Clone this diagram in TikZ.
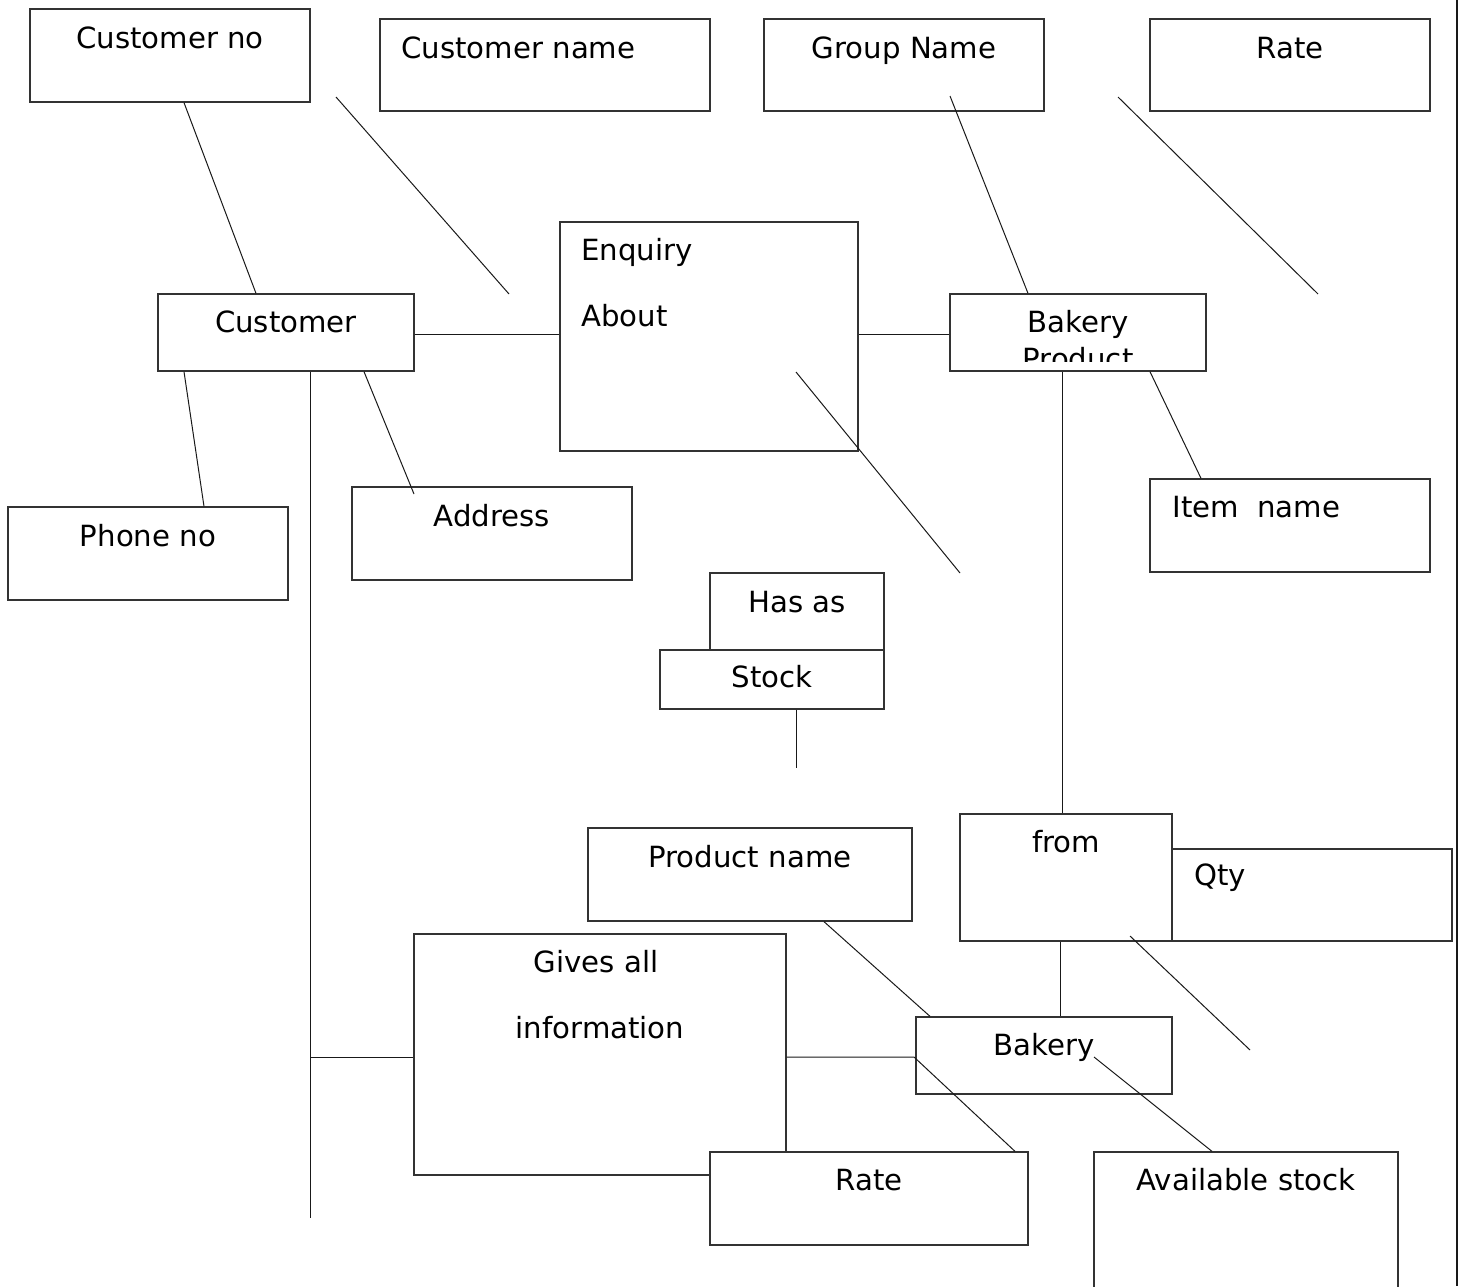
\documentclass[tikz,border=0pt]{standalone}
\usepackage{fontspec}
\setmainfont{DejaVu Sans}
\usetikzlibrary{fit}
\begin{document}
\begin{tikzpicture}[x=0.5pt,y=-0.5pt,
  box/.style={draw=black!80, line width=0.65pt, fill=white, inner sep=0pt},
  txt/.style={anchor=base, inner sep=0pt, font=\fontsize{14.6}{17}\selectfont},
  txtl/.style={txt, anchor=base west},
  ln/.style={draw=black!90, line width=0.5pt}]
\path[use as bounding box, clip] (0,0) rectangle (1461,1286);
% boxes
\node[box, fit={(30,9) (310,102)}] (cno) {};
\node[box, fit={(380,19) (710,111)}] (cname) {};
\node[box, fit={(764,19) (1044,111)}] (gname) {};
\node[box, fit={(1150,19) (1430,111)}] (rate1) {};
\node[box, fit={(560,222) (858,451)}] (enq) {};
\node[box, fit={(158,294) (414,371)}] (cust) {};
\node[box, fit={(950,294) (1206,371)}] (bprod) {};
\node[box, fit={(1150,479) (1430,572)}] (item) {};
\node[box, fit={(8,507) (288,600)}] (phone) {};
\node[box, fit={(352,487) (632,580)}] (addr) {};
\node[box, fit={(710,573) (884,650)}] (hasas) {};
\node[box, fit={(660,650) (884,709)}] (stock) {};
\node[box, fit={(960,814) (1172,941)}] (from) {};
\node[box, fit={(1172,849) (1452,941)}] (qty) {};
\node[box, fit={(588,828) (912,921)}] (pname) {};
\node[box, fit={(414,934) (786,1175)}] (gives) {};
\node[box, fit={(916,1017) (1172,1094)}] (bak) {};
\node[box, fit={(710,1152) (1028,1245)}] (rate2) {};
\node[box, fit={(1094,1152) (1398,1310)}] (avail) {};
% texts
\node[txt] (tcno) at (170,48) {Customer no};
\node[txtl] (tcname) at (401,58) {Customer name};
\node[txt] (tgname) at (904,58) {Group Name};
\node[txt] (trate1) at (1290,58) {Rate};
\node[txtl] (tenq1) at (581,260) {Enquiry};
\node[txtl] (tenq2) at (581,326) {About};
\node[txt] (tcust) at (286,332) {Customer};
\node[txt] (tbprod1) at (1078,332) {Bakery};
\begin{scope}
\clip (950,294) rectangle (1206,361);
\node[txt] (tbprod2) at (1078,369) {Product};
\end{scope}
\node[txtl] (titem) at (1172,517) {Item\ \ name};
\node[txt] (tphone) at (148,546) {Phone no};
\node[txt] (taddr) at (492,526) {Address};
\node[txt] (thasas) at (797,612) {Has as};
\node[txt] (tstock) at (772,687) {Stock};
\node[txt] (tfrom) at (1066,852) {from};
\node[txtl] (tqty) at (1194,885) {Qty};
\node[txt] (tpname) at (750,867) {Product name};
\node[txt] (tgives1) at (596,972) {Gives all};
\node[txt] (tgives2) at (600,1038) {information};
\node[txt] (tbak) at (1044,1055) {Bakery};
\node[txt] (trate2) at (869,1190) {Rate};
\node[txt] (tavail) at (1246,1190) {Available stock};
% free coordinates
\coordinate (f1a) at (336,97);   \coordinate (f1b) at (509,294);
\coordinate (f2a) at (1118,97);  \coordinate (f2b) at (1318,294);
\coordinate (f3a) at (796,372);  \coordinate (f3b) at (960,573);
\coordinate (f4a) at (1130,936); \coordinate (f4b) at (1250,1050);
\coordinate (gnp) at (950,96);
\coordinate (addrp) at (414,494);
\coordinate (cvend) at (310,1218);
\coordinate (cvmid) at (310,1057);
\coordinate (stkend) at (796,768);
\coordinate (gbend) at (914,1057);
\coordinate (bakp) at (1094,1057);
\coordinate (rtop) at (1457,0);
\coordinate (rbot) at (1457,1286);
% connectors
\draw[ln] (184,0 |- cno.south) -- (256,0 |- cust.north);
\draw[ln] (f1a) -- (f1b);
\draw[ln] (cust.east |- 0,334) -- (enq.west |- 0,334);
\draw[ln] (enq.east |- 0,334) -- (bprod.west |- 0,334);
\draw[ln] (gnp) -- (1028,0 |- bprod.north);
\draw[ln] (f2a) -- (f2b);
\draw[ln] (184,0 |- cust.south) -- (204,0 |- phone.north);
\draw[ln] (364,0 |- cust.south) -- (addrp);
\draw[ln] (310,0 |- cust.south) -- (cvend);
\draw[ln] (cvmid) -- (gives.west |- cvmid);
\draw[ln] (f3a) -- (f3b);
\draw[ln] (796,0 |- stock.south) -- (stkend);
\draw[ln] (1062,0 |- bprod.south) -- (1062,0 |- from.north);
\draw[ln] (1150,0 |- bprod.south) -- (1201,0 |- item.north);
\draw[ln] (1060,0 |- from.south) -- (1060,0 |- bak.north);
\draw[ln] (f4a) -- (f4b);
\draw[ln] (824,0 |- pname.south) -- (930,0 |- bak.north);
\draw[ln] (gives.east |- gbend) -- (gbend) -- (1015,0 |- rate2.north);
\draw[ln] (bakp) -- (1212,0 |- avail.north);
\draw[ln, line width=0.9pt] (rtop) -- (rbot);
\end{tikzpicture}
\end{document}
